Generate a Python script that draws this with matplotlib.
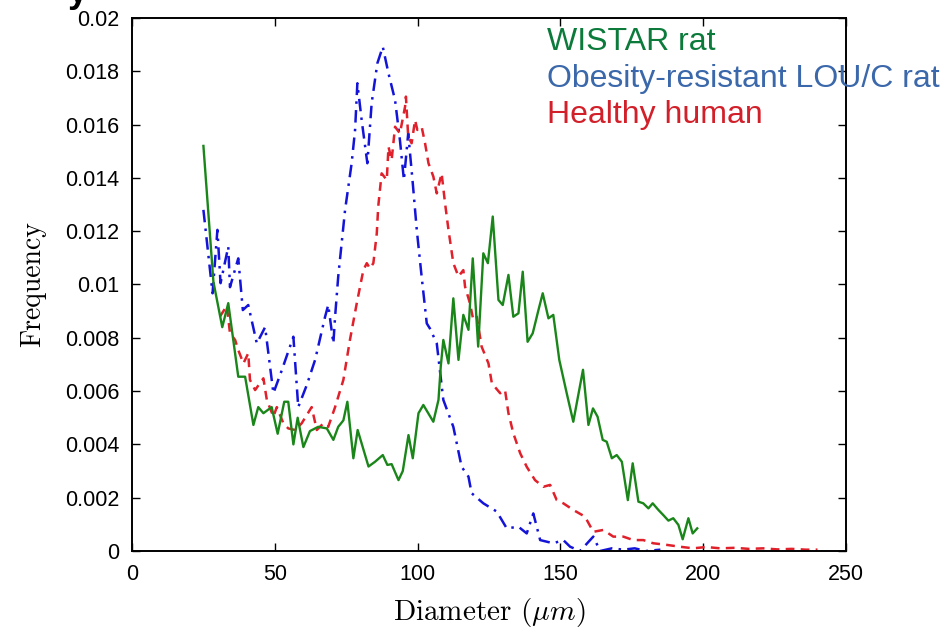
import numpy as np
import matplotlib
matplotlib.use("Agg")
import matplotlib.pyplot as plt
from matplotlib.ticker import FuncFormatter

# values
wistar_d = [25, 28.5, 31.6, 33.7, 37.2, 39.6, 42.5, 44.2, 46, 48.9, 51, 53.3, 54.7, 56.5,
            58, 60, 62.3, 65.2, 68.2, 70.5, 72.2, 74, 75.4, 77.5, 79, 82.8, 85.1, 87.8,
            89.4, 90.9, 93.3, 94.8, 96.8, 98.3, 100.3, 102, 105.5, 107.3, 108.1, 109,
            110.8, 112.5, 114.3, 116, 117.8, 119.3, 121.2, 123, 124.6, 126.3, 128.3,
            129.8, 131.8, 133.5, 135.3, 136.8, 138.5, 140.3, 142.3, 143.8, 145.8, 147.5,
            149.6, 152.2, 154.5, 157.9, 159.8, 161.4, 163, 164.8, 166.2, 168, 169.7,
            171.5, 173.6, 175.3, 177.3, 179, 180.8, 182.3, 184.3, 186, 187.8, 189.5,
            191.3, 192.8, 194.8, 196.3, 197.9]
wistar_f = [0.0152, 0.0101, 0.0084, 0.0093, 0.00654, 0.00654, 0.00473, 0.0054, 0.00517,
            0.0054, 0.0044, 0.0056, 0.0056, 0.0040, 0.0050, 0.0039, 0.0045, 0.00466,
            0.0046, 0.00417, 0.00466, 0.0049, 0.0056, 0.00348, 0.00454, 0.00317, 0.00335,
            0.0036, 0.00323, 0.00326, 0.00266, 0.0030, 0.00435, 0.00348, 0.00517, 0.00548,
            0.00485, 0.00567, 0.00692, 0.00792, 0.00704, 0.00948, 0.00717, 0.00886,
            0.0083, 0.01098, 0.00767, 0.01117, 0.0108, 0.01255, 0.00942, 0.00923, 0.01036,
            0.00879, 0.00892, 0.01048, 0.00785, 0.00817, 0.00904, 0.00967, 0.00873,
            0.00886, 0.00717, 0.00592, 0.00485, 0.0068, 0.00473, 0.00535, 0.00504,
            0.00417, 0.0041, 0.00348, 0.0036, 0.00335, 0.00191, 0.00329, 0.00185, 0.00179,
            0.0016, 0.00179, 0.00154, 0.00135, 0.00114, 0.00123, 0.00098, 0.00044,
            0.00123, 0.00066, 0.00085]

lou_d = [25, 28.2, 29.9, 31, 33.7, 34.3, 37.2, 38.8, 40.7, 43.7, 46.6, 49.5, 52.5, 56.5,
         58.2, 61.2, 64.1, 67.6, 68.7, 70.5, 71.1, 72.2, 74.6, 76.9, 78.1, 78.9, 80.4,
         82.4, 83.9, 85.9, 87.8, 89.8, 92.1, 93.8, 95.2, 96.7, 98.3, 99.7, 101.4, 103.2,
         104.3, 106.7, 109, 112.5, 115.4, 117.8, 118.9, 123, 127.7, 131.2, 135.3, 138.2,
         140.5, 142.9, 147.5, 151, 153.4, 156.9, 161.5, 163.9, 168, 172, 176, 180, 185]
lou_f = [0.0128, 0.00967, 0.01205, 0.01005, 0.01142, 0.0099, 0.01098, 0.00904, 0.00923,
         0.00779, 0.0084, 0.00592, 0.0068, 0.00804, 0.0054, 0.00623, 0.00717, 0.00879,
         0.00923, 0.00779, 0.00879, 0.0103, 0.0128, 0.01455, 0.0158, 0.01755, 0.01617,
         0.01455, 0.0168, 0.0183, 0.01892, 0.01792, 0.01692, 0.01542, 0.01392, 0.01567,
         0.0138, 0.01205, 0.0103, 0.00854, 0.00835, 0.00779, 0.00567, 0.00466, 0.00316,
         0.00279, 0.00217, 0.00179, 0.00148, 0.00085, 0.00091, 0.00066, 0.00141, 0.00041,
         0.00029, 0.00041, 0.00016, 0.0, 0.00054, 0.0, 0.0001, 0.00005, 0.0001, 0.0,
         0.00005]

human_d = [30.8, 33.2, 34.3, 36.1, 37.2, 39, 40.7, 41.3, 43.1, 46, 47.2, 49.5, 50.7, 53,
           54.7, 57.1, 59.4, 62.9, 64.7, 67, 68.7, 71.1, 74, 76.3, 78.7, 81, 82.2, 83.3,
           84.5, 85.7, 86.2, 87.4, 89.2, 89.8, 90.9, 92.1, 93.8, 95.6, 95.9, 96.7, 97.9,
           99.1, 99.9, 101.4, 102.6, 103.8, 105.5, 106.7, 108.4, 109.6, 110.8, 112.5,
           114.3, 116, 116.6, 118.3, 119.5, 120.7, 122.4, 124.8, 126, 128.9, 130.6, 131.8,
           133.5, 135.9, 138.2, 141.1, 144, 146.4, 148.7, 151, 154.5, 158.6, 161.5, 165,
           168.5, 172, 175.5, 179, 182.5, 187.2, 191.9, 196.5, 201, 206, 211, 216, 221,
           226, 231, 236, 240]
human_f = [0.0088, 0.0092, 0.00817, 0.00792, 0.00754, 0.00704, 0.00742, 0.00642, 0.00604,
           0.00648, 0.00567, 0.00504, 0.0054, 0.00479, 0.0046, 0.00454, 0.00479, 0.0054,
           0.00454, 0.00479, 0.00466, 0.0054, 0.00642, 0.00792, 0.0093, 0.01054, 0.0108,
           0.0106, 0.0108, 0.01192, 0.01292, 0.01417, 0.01392, 0.01517, 0.01467, 0.01592,
           0.01567, 0.01667, 0.01705, 0.01555, 0.0153, 0.01617, 0.0158, 0.01592, 0.0153,
           0.01455, 0.01405, 0.01342, 0.01417, 0.01305, 0.01205, 0.0108, 0.0103, 0.01054,
           0.00992, 0.0093, 0.00867, 0.00879, 0.00767, 0.00704, 0.00629, 0.00592, 0.00604,
           0.00517, 0.00442, 0.00367, 0.00316, 0.00266, 0.00241, 0.00248, 0.00191,
           0.00179, 0.00154, 0.00129, 0.00072, 0.00079, 0.00054, 0.00054, 0.00041,
           0.00041, 0.00029, 0.00023, 0.00016, 0.0001, 0.00015, 0.0001, 0.00012, 0.00008,
           0.0001, 0.00006, 0.00008, 0.00005, 0.00005]

legend_names = ["WISTAR rat", "Obesity-resistant LOU/C rat", "Healthy human"]
legend_colors = ["#0b7a3b", "#3b68aa", "#d2202a"]

x_ticks = [0, 50, 100, 150, 200, 250]
y_ticks = np.arange(0, 0.0201, 0.002)

plt.rcParams['mathtext.fontset'] = 'cm'

fig = plt.figure(figsize=(9.47, 6.29), dpi=100)
ax = fig.add_axes([0.1394, 0.124, 0.754, 0.8474])

ax.plot(lou_d, lou_f, color="#1414d8", lw=1.8, dashes=[5, 2.5, 1, 2.5])
ax.plot(human_d, human_f, color="#e0202a", lw=1.8, dashes=[3.5, 2.5])
ax.plot(wistar_d, wistar_f, color="#1a861a", lw=1.7)

ax.set_xlim(0, 250)
ax.set_ylim(0, 0.02)
ax.set_xticks(x_ticks)
ax.set_yticks(y_ticks)
ax.yaxis.set_major_formatter(FuncFormatter(lambda v, p: "%g" % round(v, 4)))
ax.tick_params(direction="in", top=True, right=True, length=6, width=1,
               labelsize=15.5, pad=9)
for lab in ax.get_xticklabels() + ax.get_yticklabels():
    lab.set_family("Liberation Sans")
for s in ax.spines.values():
    s.set_linewidth(1.4)

ax.set_xlabel(r"Diameter ($\mu m$)", family="cmr10", fontsize=21, labelpad=8)
ax.set_ylabel("Frequency", family="cmr10", fontsize=20, labelpad=14)

# legend written as coloured text over the top right corner
base_y = [1 - 50 / 629, 1 - 86.7 / 629, 1 - 123.3 / 629]
for name, col, yy in zip(legend_names, legend_colors, base_y):
    fig.text(547 / 947, yy, name, color=col, fontsize=23, family="Liberation Sans",
             va="baseline")

# clipped fragment of a slide title above the figure
fig.text(68 / 947, 1 - 2 / 629, "y", fontsize=26, fontweight="bold",
         family="Liberation Sans", va="baseline")

fig.savefig("out.png", dpi=100)
